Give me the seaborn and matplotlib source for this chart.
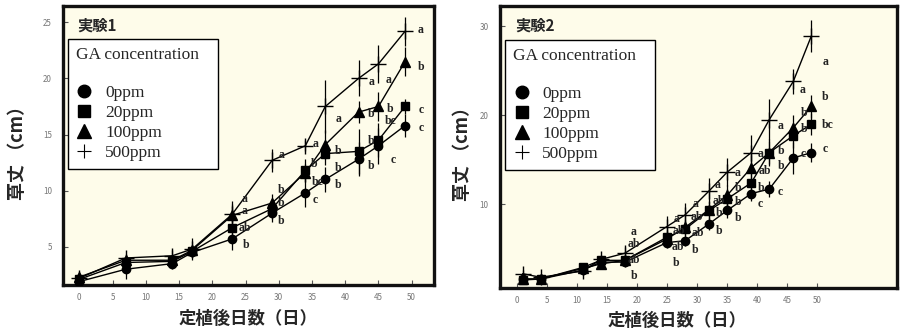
import matplotlib
matplotlib.use("Agg")
import matplotlib.pyplot as plt
import seaborn as sns
import pandas as pd
from matplotlib.lines import Line2D

# ---------------- data ----------------
concs = ["0ppm", "20ppm", "100ppm", "500ppm"]

# Experiment 1
days1 = [0, 7, 14, 17, 23, 29, 34, 37, 42, 45, 49]
h1_0 = [1.9, 3.0, 3.5, 4.5, 5.7, 8.0, 9.8, 11.0, 12.8, 14.0, 15.8]
h1_20 = [2.1, 3.6, 3.7, 4.6, 6.7, 8.4, 11.8, 13.3, 13.5, 14.5, 17.5]
h1_100 = [2.3, 3.8, 3.8, 4.7, 7.8, 8.9, 11.6, 14.1, 17.0, 17.5, 21.5]
h1_500 = [2.2, 4.0, 4.2, 4.8, 7.9, 12.7, 14.0, 17.5, 20.0, 21.3, 24.2]
sd1_0 = [0.2, 0.9, 0.5, 0.5, 1.0, 0.8, 1.3, 1.1, 1.5, 1.6, 1.0]
sd1_20 = [0.2, 0.4, 0.4, 0.5, 1.0, 0.9, 1.0, 1.0, 2.0, 1.5, 0.7]
sd1_100 = [0.3, 0.4, 0.4, 0.5, 1.0, 0.8, 0.8, 1.3, 1.0, 1.3, 1.3]
sd1_500 = [0.3, 0.4, 0.5, 1.0, 1.2, 1.0, 0.5, 2.4, 1.6, 1.7, 1.3]

lbl1_x = [24.9, 24.9, 24.9, 25.1, 30.4, 30.4, 30.4, 30.4, 35.5, 35.3, 35.8, 35.5,
          39.0, 39.0, 39.0, 39.0, 43.9, 43.9, 43.9, 43.9, 46.5, 46.8, 46.8, 47.2,
          51.4, 51.4, 51.4, 51.4]
lbl1_y = [9.3, 8.2, 6.7, 5.15, 13.2, 10.05, 8.9, 7.3, 14.2, 12.4, 10.8, 9.2,
          16.4, 13.5, 12.0, 10.5, 19.7, 16.8, 14.4, 12.2, 19.9, 17.3, 16.2, 12.7,
          24.3, 21.0, 17.2, 15.6]
lbl1_t = ["a", "a", "ab", "b", "a", "b", "b", "b", "a", "b", "bc", "c",
          "a", "b", "b", "b", "a", "b", "b", "b", "a", "b", "bc", "c",
          "a", "b", "c", "c"]

# Experiment 2
days2 = [1, 4, 11, 14, 18, 25, 28, 32, 35, 39, 42, 46, 49]
h2_0 = [1.6, 1.6, 2.6, 3.5, 3.5, 5.7, 5.9, 7.8, 9.3, 11.2, 11.7, 15.2, 15.8]
h2_20 = [1.5, 1.6, 2.9, 3.7, 3.7, 6.3, 7.2, 9.3, 10.6, 12.4, 15.8, 17.7, 19.0]
h2_100 = [1.6, 1.6, 2.8, 3.3, 3.7, 6.1, 7.4, 9.4, 11.0, 14.1, 15.8, 18.6, 21.0]
h2_500 = [2.2, 1.8, 2.5, 3.8, 4.5, 7.5, 8.8, 11.5, 13.6, 15.8, 19.5, 23.8, 28.9]
sd2_0 = [0.3, 0.3, 0.4, 0.4, 0.5, 0.6, 0.6, 0.7, 0.8, 0.8, 0.9, 1.8, 1.1]
sd2_20 = [0.3, 0.3, 0.4, 0.4, 0.5, 0.8, 0.8, 1.0, 1.1, 1.2, 1.3, 1.4, 1.2]
sd2_100 = [0.3, 0.3, 0.4, 0.4, 0.5, 0.8, 0.8, 1.0, 1.2, 1.4, 1.5, 1.4, 1.3]
sd2_500 = [0.4, 0.3, 0.5, 0.5, 0.7, 1.2, 1.3, 1.4, 1.6, 2.0, 2.3, 1.4, 1.8]

lbl2_x = [19.5, 19.5, 19.5, 19.5, 26.6, 27.0, 26.8, 26.6, 29.7, 29.9, 30.2, 29.7,
          33.4, 33.6, 33.6, 33.6, 36.8, 36.8, 36.8, 36.8, 40.5, 41.2, 40.7, 40.5,
          43.8, 43.9, 43.9, 43.8, 47.6, 47.8, 47.8, 47.6, 51.3, 51.3, 51.7, 51.3]
lbl2_y = [6.85, 5.5, 3.75, 1.9, 8.3, 7.0, 5.2, 3.4, 10.0, 8.6, 6.8, 4.9,
          12.2, 10.4, 9.0, 7.0, 13.5, 11.8, 10.3, 8.5, 15.6, 13.7, 11.8, 10.0,
          18.8, 16.0, 14.3, 11.4, 22.8, 20.2, 18.4, 15.65, 26.0, 22.0, 18.9, 16.2]
lbl2_t = ["a", "ab", "ab", "b", "a", "ab", "ab", "b", "a", "ab", "ab", "b",
          "a", "ab", "b", "b", "a", "b", "b", "b", "a", "ab", "b", "c",
          "a", "b", "b", "c", "a", "b", "b", "c", "a", "b", "bc", "c"]

xticks = [0, 5, 10, 15, 20, 25, 30, 35, 40, 45, 50]
yticks1 = [5, 10, 15, 20, 25]
yticks2 = [10, 20, 30]

# ---------------- style ----------------
sns.set_style("ticks")
CJK = ["Noto Sans CJK JP", "DejaVu Sans"]
SERIF = ["Liberation Serif", "DejaVu Serif"]
plt.rcParams["font.family"] = CJK

markers = {"0ppm": "o", "20ppm": "s", "100ppm": "^", "500ppm": "+"}
msizes = {"0ppm": 6, "20ppm": 6, "100ppm": 7, "500ppm": 11}
bg = "#fefcea"

fig = plt.figure(figsize=(9.04, 3.36), dpi=100)
ax1 = fig.add_axes([0.0697, 0.152, 0.410, 0.830])
ax2 = fig.add_axes([0.553, 0.143, 0.439, 0.840])


def draw(ax, days, hs, sds, lx, ly, lt, xlim, ylim, yticks, title,
         ylab_x, xlab_x, xlab_y, leg_box):
    ax.set_facecolor(bg)
    for c, h, sd in zip(concs, hs, sds):
        df = pd.DataFrame({"day": days, "height": h})
        ax.errorbar(days, h, yerr=sd, fmt="none", ecolor="black",
                    elinewidth=0.9, capsize=0, zorder=2)
        sns.lineplot(data=df, x="day", y="height", ax=ax, color="black",
                     linewidth=1.0, marker=markers[c], markersize=msizes[c],
                     markeredgecolor="black", markerfacecolor="black",
                     markeredgewidth=1.0, legend=False, zorder=3)
    for x, y, t in zip(lx, ly, lt):
        ax.text(x, y, t, ha="center", va="center", fontsize=8.5,
                fontweight="bold", family=SERIF, color="#222222", zorder=4)
    ax.set_xlim(*xlim)
    ax.set_ylim(*ylim)
    ax.set_xticks(xticks)
    ax.set_yticks(yticks)
    ax.tick_params(direction="in", length=3.5, width=0.8, color="#555555",
                   labelsize=5.8, labelcolor="#777777")
    ax.tick_params(axis="x", pad=6)
    ax.tick_params(axis="y", pad=8)
    for s in ax.spines.values():
        s.set_linewidth(2.4)
        s.set_color("#111111")
    ax.set_ylabel("草丈 （cm）", fontsize=13, fontweight="bold", family=CJK)
    ax.yaxis.set_label_coords(ylab_x, 0.49)
    ax.set_xlabel("定植後日数（日）", fontsize=12.5, fontweight="bold", family=CJK)
    ax.xaxis.set_label_coords(xlab_x, xlab_y)
    ax.text(0.038, 0.93, title, transform=ax.transAxes, fontsize=11,
            fontweight="bold", family=CJK, ha="left", va="center")
    handles = [Line2D([], [], color="black", linestyle="none", marker=markers[c],
                      markersize=msizes[c] * 1.5, markeredgewidth=1.0)
               for c in concs]
    handles[-1].set_markersize(10)
    handles[-1].set_markeredgewidth(0.8)
    leg = ax.legend(handles, concs, title="GA concentration\n", loc="upper left",
                    bbox_to_anchor=leg_box, mode="expand", frameon=True,
                    fancybox=False, edgecolor="black", framealpha=1,
                    facecolor="white",
                    prop={"family": SERIF, "size": 12.5},
                    title_fontproperties={"family": SERIF, "size": 12.5},
                    alignment="left", handlelength=1.0, handletextpad=0.7,
                    labelspacing=0.22, borderpad=0.45, borderaxespad=0)
    leg.get_frame().set_linewidth(1.0)
    leg.set_zorder(5)


draw(ax1, days1, [h1_0, h1_20, h1_100, h1_500], [sd1_0, sd1_20, sd1_100, sd1_500],
     lbl1_x, lbl1_y, lbl1_t, (-2.45, 53.3), (1.6, 26.45), yticks1, "実験1",
     -0.097, 0.499, -0.09, (0.013, 0.416, 0.405, 0.466))
draw(ax2, days2, [h2_0, h2_20, h2_100, h2_500], [sd2_0, sd2_20, sd2_100, sd2_500],
     lbl2_x, lbl2_y, lbl2_t, (-2.77, 63.2), (0.6, 32.3), yticks2, "実験2",
     -0.07, 0.446, -0.085, (0.013, 0.416, 0.378, 0.462))

fig.savefig("out.png", dpi=100, facecolor="white")
